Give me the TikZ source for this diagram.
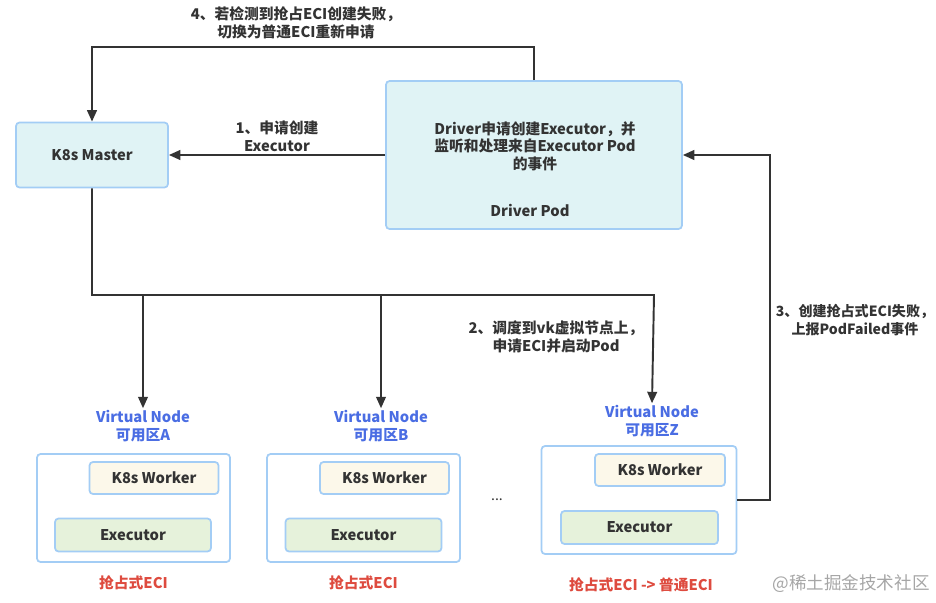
\documentclass[tikz,border=0pt]{standalone}
\usepackage{fontspec}
\setmainfont{Noto Sans CJK SC}
\usetikzlibrary{arrows.meta}
\definecolor{boxline}{HTML}{A3CDF5}
\definecolor{cyanfill}{HTML}{E0F3F5}
\definecolor{workerfill}{HTML}{FCF8EA}
\definecolor{execfill}{HTML}{E6F2DB}
\definecolor{vnblue}{HTML}{4A6DE3}
\definecolor{ecired}{HTML}{DE4B3F}
\definecolor{ink}{HTML}{333333}
\begin{document}
\begin{tikzpicture}[x=0.02cm,y=-0.02cm,
    font=\fontsize{8.4}{10}\selectfont\bfseries,text=ink,
    box/.style={draw=boxline,line width=1pt,rounded corners=2pt},
    arr/.style={draw=ink,line width=1.1pt,-{Triangle[length=6.5pt,width=5.5pt]}},
    vnlabel/.style={text=vnblue,align=center,inner sep=1pt},
    eci/.style={text=ecired}]
    \useasboundingbox (0,0) rectangle (936,602);
    %% Master and driver
    \node[box,fill=cyanfill,minimum width=3.04cm,minimum height=1.30cm] (master) at (92,155) {K8s Master};
    \node[box,fill=cyanfill,minimum width=5.92cm,minimum height=2.96cm] (drv) at (534,155) {};
    \node[align=center] (drvtxt) at (535,146) {Driver申请创建Executor，并\\监听和处理来自Executor Pod\\的事件};
    \node (drvlbl) at (530,210) {Driver Pod};
    %% Virtual nodes
    \node[box,fill=white,minimum width=3.86cm,minimum height=2.16cm] (vbA) at (133.5,508) {};
    \node[box,fill=workerfill,minimum width=2.58cm,minimum height=0.64cm] (wkA) at (154,478) {K8s Worker};
    \node[box,fill=execfill,minimum width=3.12cm,minimum height=0.66cm] (exA) at (133,535) {Executor};
    \node[vnlabel] (vnA) at (143,426) {Virtual Node\\可用区A};
    \node[eci] (eciA) at (133.5,583) {抢占式ECI};
    \node[box,fill=white,minimum width=3.86cm,minimum height=2.16cm] (vbB) at (363.5,508) {};
    \node[box,fill=workerfill,minimum width=2.58cm,minimum height=0.64cm] (wkB) at (384.5,478) {K8s Worker};
    \node[box,fill=execfill,minimum width=3.12cm,minimum height=0.66cm] (exB) at (363.5,535) {Executor};
    \node[vnlabel] (vnB) at (381,426) {Virtual Node\\可用区B};
    \node[eci] (eciB) at (363.5,583) {抢占式ECI};
    \node[font=\fontsize{8}{10}\selectfont] (dots) at (497,500) {...};
    \node[box,fill=white,minimum width=3.90cm,minimum height=2.16cm] (vbZ) at (639,500) {};
    \node[box,fill=workerfill,minimum width=2.60cm,minimum height=0.64cm] (wkZ) at (660,470) {K8s Worker};
    \node[box,fill=execfill,minimum width=3.14cm,minimum height=0.66cm] (exZ) at (639.5,527.5) {Executor};
    \node[vnlabel] (vnZ) at (652,421) {Virtual Node\\可用区Z};
    \node[eci] (eciZ) at (641,585) {抢占式ECI -> 普通ECI};
    %% Connectors
    \coordinate (busA) at (143,295);
    \coordinate (busB) at (381,295);
    \coordinate (busZ) at (654,295);
    \draw[arr] (drv.west) -- (master.east) node[pos=0.5,anchor=south,align=center,yshift=-2pt] (lbl1) {1、申请创建\\Executor};
    \draw[arr] (drv.north) -- ++(0,-33) -| (master.north);
    \node[align=center] (lbl4) at (296,23) {4、若检测到抢占ECI创建失败，\\切换为普通ECI重新申请};
    \draw[arr] (master.south) |- (busZ) -- (vnZ.north);
    \draw[arr] (busA) -- (vnA.north);
    \draw[arr] (busB) -- (vnB.north);
    \node[align=center] (lbl2) at (556,337) {2、调度到vk虚拟节点上，\\申请ECI并启动Pod};
    \draw[arr] (vbZ.east) -- ++(33,0) |- (drv.east);
    \node[align=center,font=\fontsize{8}{10}\selectfont\bfseries] (lbl3) at (855,320) {3、创建抢占式ECI失败，\\上报PodFailed事件};
    %% Watermark
    \node[font=\fontsize{10}{12}\selectfont,text=black!35] (wm) at (851,584) {@稀土掘金技术社区};
\end{tikzpicture}
\end{document}
